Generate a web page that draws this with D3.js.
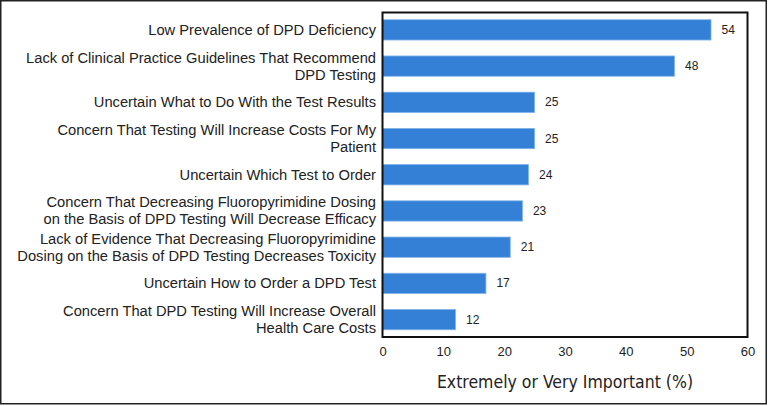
<!DOCTYPE html>
<html>
<head>
<meta charset="utf-8">
<script src="https://cdn.jsdelivr.net/npm/d3@7"></script>
<style>
  body { margin: 0; background: #fff; }
  svg { display: block; }
</style>
</head>
<body>
<svg width="768" height="406"></svg>
<script>
// **** Data ****
var barriers = [
    ["Low Prevalence of DPD Deficiency"],
    ["Lack of Clinical Practice Guidelines That Recommend", "DPD Testing"],
    ["Uncertain What to Do With the Test Results"],
    ["Concern That Testing Will Increase Costs For My", "Patient"],
    ["Uncertain Which Test to Order"],
    ["Concern That Decreasing Fluoropyrimidine Dosing", "on the Basis of DPD Testing Will Decrease Efficacy"],
    ["Lack of Evidence That Decreasing Fluoropyrimidine", "Dosing on the Basis of DPD Testing Decreases Toxicity"],
    ["Uncertain How to Order a DPD Test"],
    ["Concern That DPD Testing Will Increase Overall", "Health Care Costs"]
];
var importantPct = [54, 48, 25, 25, 24, 23, 21, 17, 12];
var xTicks = [0, 10, 20, 30, 40, 50, 60];
var xTitle = "Extremely or Very Important (%)";

// **** Scales ****
var plotLeft = 382.5, plotRight = 747.5, plotTop = 12.5, plotBottom = 337;

var xScale = d3.scaleLinear()
    .domain([0, 60])
    .range([plotLeft, plotRight]);

var yScale = d3.scaleBand()
    .domain(d3.range(barriers.length))
    .range([plotTop, plotBottom])
    .paddingInner(0.44)
    .paddingOuter(0.2);

var svg = d3.select('svg');

// outer border
svg.append('rect')
    .attr('x', 0.75).attr('y', 0.75)
    .attr('width', 765.5).attr('height', 403)
    .attr('fill', 'none')
    .attr('stroke', '#222')
    .attr('stroke-width', 1.5);

// bars
svg.selectAll('rect.bar')
    .data(importantPct)
    .enter()
    .append('rect')
    .attr('class', 'bar')
    .attr('x', xScale(0))
    .attr('y', function(d, i) { return yScale(i); })
    .attr('width', function(d) { return xScale(d) - xScale(0); })
    .attr('height', yScale.bandwidth())
    .attr('fill', '#3380d6')
    .attr('stroke', '#7fb3ea')
    .attr('stroke-width', 0.8);

// value labels
svg.selectAll('text.val')
    .data(importantPct)
    .enter()
    .append('text')
    .attr('class', 'val')
    .attr('x', function(d) { return xScale(d) + 10.5; })
    .attr('y', function(d, i) { return yScale(i) + yScale.bandwidth() / 2 + 4; })
    .style('font-family', 'Liberation Sans, Arial, sans-serif')
    .style('font-size', '12px')
    .style('fill', '#222')
    .text(function(d) { return d; });

// category labels
var labels = svg.selectAll('text.cat')
    .data(barriers)
    .enter()
    .append('text')
    .attr('class', 'cat')
    .attr('text-anchor', 'end')
    .style('font-family', 'Liberation Sans, Arial, sans-serif')
    .style('font-size', '14.7px')
    .style('fill', '#222')
    .attr('transform', function(d, i) {
        var cy = yScale(i) + yScale.bandwidth() / 2;
        var offset = d.length === 1 ? 5 : -3.5;
        return 'translate(376,' + (cy + offset) + ')';
    });

labels.selectAll('tspan')
    .data(function(d) { return d; })
    .enter()
    .append('tspan')
    .attr('x', 0)
    .attr('dy', function(d, i) { return i === 0 ? 0 : 17; })
    .text(function(d) { return d; });

// plot frame
svg.append('rect')
    .attr('x', plotLeft).attr('y', plotTop)
    .attr('width', plotRight - plotLeft).attr('height', plotBottom - plotTop)
    .attr('fill', 'none')
    .attr('stroke', '#111')
    .attr('stroke-width', 2);

// x axis
var xAxis = svg.append('g').attr('class', 'x axis')
    .attr('transform', 'translate(0,' + plotBottom + ')')
    .call(d3.axisBottom(xScale).tickValues(xTicks).tickSize(0).tickPadding(10));
xAxis.select('.domain').remove();
xAxis.selectAll('text')
    .style('font-family', 'Liberation Sans, Arial, sans-serif')
    .style('font-size', '13px')
    .style('fill', '#222');

// x axis title
svg.append('text')
    .attr('x', 565)
    .attr('y', 388)
    .attr('text-anchor', 'middle')
    .style('font-family', 'Liberation Sans Narrow, DejaVu Sans Condensed, Arial Narrow, sans-serif')
    .style('font-stretch', 'condensed')
    .style('font-size', '17.5px')
    .style('fill', '#222')
    .text(xTitle);
</script>
</body>
</html>
